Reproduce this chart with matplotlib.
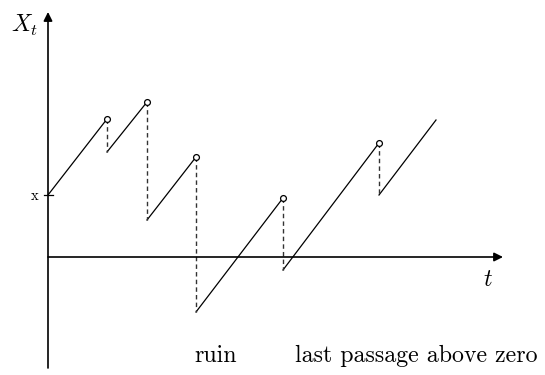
import matplotlib
matplotlib.use("Agg")
import matplotlib.pyplot as plt

plt.rcParams['mathtext.fontset'] = 'cm'

# path of the process (t, X_t): start level, jump times, levels just before/after each jump
x0 = 6.2
jump_times = [5.9, 9.9, 14.8, 23.5, 33.1]
pre_jump = [13.8, 15.5, 10.0, 5.9, 11.4]
post_jump = [10.5, 3.7, -5.5, -1.3, 6.2]
t_end, x_end = 38.8, 13.7

fig = plt.figure(figsize=(5.45, 3.75), dpi=100)
ax = fig.add_axes([0, 0, 1, 1])
ax.set_xlim(-4.8, 49.7)
ax.set_ylim(-11.8, 25.7)
ax.axis('off')

# axes with arrows
arrow = dict(arrowstyle='-|>', color='black', lw=1.2, mutation_scale=13, shrinkA=0, shrinkB=0)
ax.annotate('', xy=(0, 24.5), xytext=(0, -11.1), arrowprops=arrow)
ax.annotate('', xy=(45.5, 0), xytext=(0, 0), arrowprops=arrow)

# tick for starting level x
ax.plot([-0.4, 0.5], [x0, x0], color='black', lw=0.9)
ax.text(-1.0, x0 - 0.1, 'x', family='cmr10', fontsize=10.5, ha='right', va='center')

# sample path: linear increase between downward jumps
starts_t = [0] + jump_times
starts_x = [x0] + post_jump
ends_t = jump_times + [t_end]
ends_x = pre_jump + [x_end]
for t0, a, t1, b in zip(starts_t, starts_x, ends_t, ends_x):
    ax.plot([t0, t1], [a, b], color='black', lw=0.9)

for t, hi, lo in zip(jump_times, pre_jump, post_jump):
    ax.plot([t, t], [hi, lo], color='#333333', lw=1.0, linestyle=(0, (3.2, 2.3)))
ax.plot(jump_times, pre_jump, 'o', ms=4.2, mfc='white', mec='black', mew=0.9, zorder=5)

# labels
ax.text(-2.3, 23.2, r'$X_t$', fontsize=17, ha='center', va='center')
ax.text(44.0, -2.2, r'$t$', fontsize=17, ha='center', va='center')
ax.text(14.6, -10.5, 'ruin', family='cmr10', fontsize=17.2, ha='left', va='baseline')
ax.text(24.7, -10.5, 'last passage above zero', family='cmr10', fontsize=17.2,
        ha='left', va='baseline')

fig.savefig('out.png', dpi=100)
